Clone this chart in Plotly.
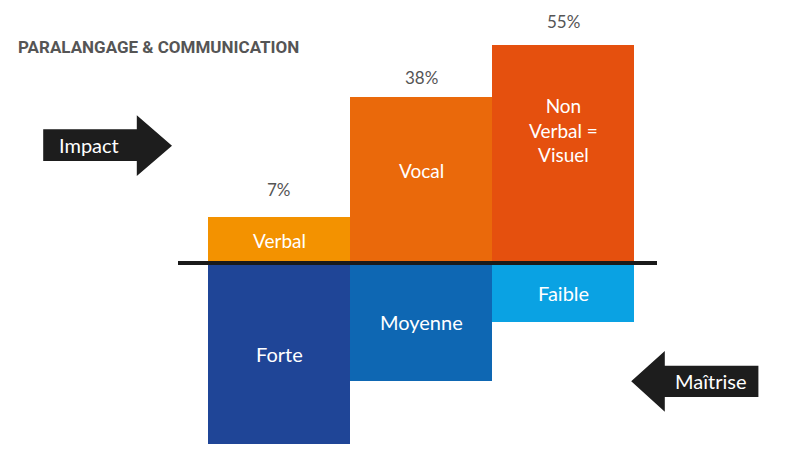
import plotly.graph_objects as go

# values (heights in picture units, baseline = 0)
categories = ["Verbal", "Vocal", "Non verbal"]
impact_labels = ["Verbal", "Vocal", "Non<br>Verbal =<br>Visuel"]
impact_pct = ["7%", "38%", "55%"]
impact_height = [46, 166, 218]
maitrise_labels = ["Forte", "Moyenne", "Faible"]
maitrise_height = [-181, -118, -59]

impact_colors = ["#F39200", "#EA690B", "#E5500E"]
maitrise_colors = ["#1F4597", "#0E67B3", "#0AA2E3"]

FONT = "Lato, 'Open Sans', sans-serif"
TITLE_FONT = "Roboto, sans-serif"

fig = go.Figure()
fig.add_trace(go.Bar(x=categories, y=impact_height, marker_color=impact_colors,
                     marker_line_width=0, hoverinfo="skip"))
fig.add_trace(go.Bar(x=categories, y=maitrise_height, marker_color=maitrise_colors,
                     marker_line_width=0, hoverinfo="skip"))

# labels inside the upper bars
label_y = [23, 93, 133]
for c, lab, y in zip(categories, impact_labels, label_y):
    fig.add_annotation(x=c, y=y, text=lab, showarrow=False, yanchor="middle",
                       font=dict(family=FONT, size=19, color="white"))
# percentages above
for c, p, h, off in zip(categories, impact_pct, impact_height, [28, 20, 24]):
    fig.add_annotation(x=c, y=h + off, text=p, showarrow=False, yanchor="middle",
                       font=dict(family=FONT, size=17, color="#555555"))
# labels inside the lower bars
for c, lab, h in zip(categories, maitrise_labels, maitrise_height):
    fig.add_annotation(x=c, y=h / 2, text=lab, showarrow=False, yanchor="middle",
                       font=dict(family=FONT, size=20, color="white"))

# baseline
fig.add_shape(type="line", xref="paper", yref="y", x0=178 / 800, x1=657 / 800, y0=0, y1=0,
              line=dict(color="#1a1a1a", width=4))

# Impact arrow (pointing right)
fig.add_shape(type="path", xref="paper", yref="paper",
              path="M 0.054 0.713 L 0.171 0.713 L 0.171 0.744 L 0.215 0.676 L 0.171 0.609 "
                   "L 0.171 0.642 L 0.054 0.642 Z",
              fillcolor="#1d1d1d", line_width=0)
fig.add_annotation(xref="paper", yref="paper", x=0.111, y=0.677, text="Impact",
                   xanchor="center", yanchor="middle", showarrow=False,
                   font=dict(family=FONT, size=20, color="white"))

# Maîtrise arrow (pointing left)
fig.add_shape(type="path", xref="paper", yref="paper",
              path="M 0.948 0.187 L 0.831 0.187 L 0.831 0.220 L 0.789 0.153 L 0.831 0.085 "
                   "L 0.831 0.118 L 0.948 0.118 Z",
              fillcolor="#1d1d1d", line_width=0)
fig.add_annotation(xref="paper", yref="paper", x=0.888, y=0.153, text="Maîtrise",
                   xanchor="center", yanchor="middle", showarrow=False,
                   font=dict(family=FONT, size=20, color="white"))

# title
fig.add_annotation(xref="paper", yref="paper", x=16 / 800, y=1 - 47 / 450,
                   xanchor="left", yanchor="middle", showarrow=False,
                   text="<b>PARALANGAGE & COMMUNICATION</b>",
                   font=dict(family=TITLE_FONT, size=17, color="#555555"))

fig.update_layout(
    width=800, height=450,
    margin=dict(l=0, r=0, t=0, b=0),
    paper_bgcolor="white", plot_bgcolor="white",
    barmode="relative", bargap=0, showlegend=False,
    xaxis=dict(domain=[208 / 800, 634 / 800], range=[-0.5, 2.5], visible=False),
    yaxis=dict(domain=[0, 1], range=[-187, 263], visible=False),
)

fig.write_html("out.html", config={"displayModeBar": False},
               post_script="document.body.style.margin = '0';")
